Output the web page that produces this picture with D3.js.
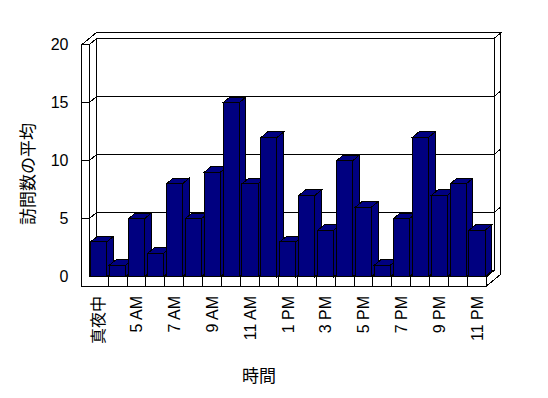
<!DOCTYPE html>
<html>
<head>
<meta charset="utf-8">
<script src="https://cdn.jsdelivr.net/npm/d3@7"></script>
<style>
  body { margin: 0; background: #fff; }
  text { font-family: "Liberation Sans", "Noto Sans CJK JP", sans-serif; fill: #000; }
  polygon, line { shape-rendering: crispEdges; }
</style>
</head>
<body>
<div id="chart"></div>
<script>
// data
const categories = ['真夜中', '4 AM', '5 AM', '6 AM', '7 AM', '8 AM', '9 AM', '10 AM', '11 AM', '正午',
  '1 PM', '2 PM', '3 PM', '4 PM', '5 PM', '6 PM', '7 PM', '8 PM', '9 PM', '10 PM', '11 PM'];
const visits = [3, 1, 5, 2, 8, 5, 9, 15, 8, 12, 3, 7, 4, 10, 6, 1, 5, 12, 7, 8, 4];
const yTicks = [0, 5, 10, 15, 20];
const yTitle = '訪問数の平均';
const xTitle = '時間';

const width = 548, height = 398;

// front plane geometry, depth goes up/right
const xOut = 81.7, xIn = 89.2, xR = 486.5;
const yFloorBottom = 286;
const DX = 7.5, DY = -6.2;
const wallT = 0.9, barT = 0.9;
const proj = (x, y, z) => [x + z * DX, y + z * DY];

const svg = d3.select('#chart')
  .append('svg')
  .attr('width', width)
  .attr('height', height);

const x = d3.scaleBand()
  .domain(categories)
  .range([xIn, xR])
  .paddingInner(0.15)
  .paddingOuter(0.075);

const y = d3.scaleLinear()
  .domain([0, 20])
  .range([276.7, 44.7]);

const y0 = y(0), yTop = y(20);

function poly(pts, fill) {
  svg.append('polygon')
    .attr('points', pts.map(p => p.join(',')).join(' '))
    .attr('fill', fill)
    .attr('stroke', '#000')
    .attr('stroke-width', 1)
    .attr('stroke-linejoin', 'miter');
}

function line(a, b) {
  svg.append('line')
    .attr('x1', a[0]).attr('y1', a[1])
    .attr('x2', b[0]).attr('y2', b[1])
    .attr('stroke', '#000')
    .attr('stroke-width', 1);
}

// back wall front face
poly([proj(xIn, yTop, 1), proj(xR, yTop, 1), proj(xR, y0, 1), proj(xIn, y0, 1)], '#fff');
// left wall inner face
poly([proj(xIn, yTop, 0), proj(xIn, yTop, 1), proj(xIn, y0, 1), proj(xIn, y0, 0)], '#fff');
// floor top
poly([proj(xIn, y0, 0), proj(xR, y0, 0), proj(xR, y0, 1), proj(xIn, y0, 1)], '#fff');
// top of both walls
poly([proj(xOut, yTop, 0), proj(xIn, yTop, 0), proj(xIn, yTop, 1), proj(xR, yTop, 1),
  proj(xR, yTop, 1 + wallT), proj(xOut, yTop, 1 + wallT)], '#fff');
// right ends of back wall and floor
poly([proj(xR, yTop, 1), proj(xR, yTop, 1 + wallT), proj(xR, yFloorBottom, 1 + wallT),
  proj(xR, yFloorBottom, 0), proj(xR, y0, 0), proj(xR, y0, 1)], '#fff');
// front faces of left wall and floor
poly([[xOut, yTop], [xIn, yTop], [xIn, y0], [xR, y0], [xR, yFloorBottom], [xOut, yFloorBottom]], '#fff');

// gridlines and ticks
yTicks.filter(v => v > 0 && v < 20).forEach(v => {
  const yv = y(v);
  line(proj(xIn, yv, 1), proj(xR, yv, 1));
  line(proj(xIn, yv, 0), proj(xIn, yv, 1));
  line(proj(xR, yv, 1), proj(xR, yv, 1 + wallT));
  line([xOut, yv], [xIn, yv]);
});

// category dividers on the floor
const step = x.step();
d3.range(1, categories.length).forEach(i => {
  const xb = xIn + i * step;
  line([xb, y0], [xb, yFloorBottom]);
  line(proj(xb, y0, 0), proj(xb, y0, 1));
});

// bars
const bw = x.bandwidth();
categories.forEach((c, i) => {
  const bx = x(c), yv = y(visits[i]);
  poly([proj(bx + bw, yv, 0), proj(bx + bw, yv, barT), proj(bx + bw, y0, barT), proj(bx + bw, y0, 0)], '#000080');
  poly([proj(bx, yv, 0), proj(bx + bw, yv, 0), proj(bx + bw, yv, barT), proj(bx, yv, barT)], '#000080');
  poly([[bx, yv], [bx + bw, yv], [bx + bw, y0], [bx, y0]], '#000080');
});

// y tick labels
svg.append('g')
  .selectAll('text')
  .data(yTicks)
  .enter().append('text')
  .attr('x', 68.5)
  .attr('y', d => y(d))
  .attr('dy', '0.36em')
  .attr('text-anchor', 'end')
  .attr('font-size', '16px')
  .text(d => d);

// x labels, every other one
svg.append('g')
  .selectAll('text')
  .data(categories.filter((c, i) => i % 2 === 0))
  .enter().append('text')
  .attr('transform', d => `translate(${x(d) + bw / 2},296) rotate(-90)`)
  .attr('dy', '0.36em')
  .attr('text-anchor', 'end')
  .attr('font-size', '16px')
  .text(d => d);

svg.append('text')
  .attr('transform', 'translate(28,174) rotate(-90)')
  .attr('dy', '0.36em')
  .attr('text-anchor', 'middle')
  .attr('font-size', '17px')
  .text(yTitle);

svg.append('text')
  .attr('x', 259)
  .attr('y', 376)
  .attr('dy', '0.36em')
  .attr('text-anchor', 'middle')
  .attr('font-size', '17px')
  .text(xTitle);
</script>
</body>
</html>
